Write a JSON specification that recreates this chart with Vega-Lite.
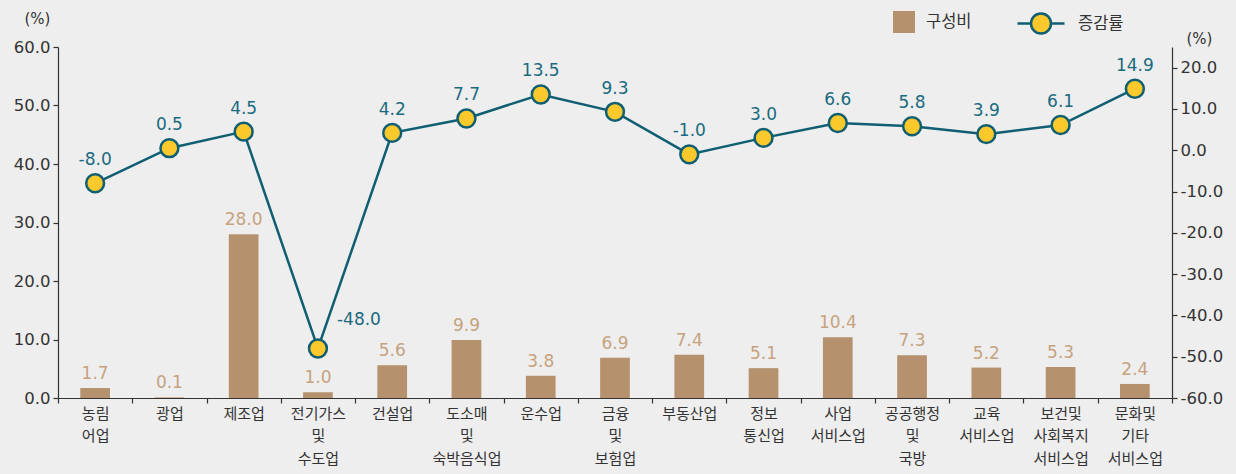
{
  "$schema": "https://vega.github.io/schema/vega-lite/v6.json",
  "width": 1114,
  "height": 351,
  "autosize": {"type": "none"},
  "padding": {"left": 58, "top": 47, "right": 64, "bottom": 76},
  "background": "#eeeeee",
  "config": {
    "locale": {"number": {"decimal": ".", "thousands": ",", "grouping": [3], "currency": ["", ""], "minus": "-"}},
    "view": {"stroke": null},
    "axis": {"grid": false, "domainColor": "#333333", "tickColor": "#333333", "labelColor": "#333333", "titleColor": "#333333", "domainWidth": 1.2, "tickWidth": 1.2}
  },
  "data": {
    "values": [
      {"cat": "농림\n어업", "share": 1.7, "growth": -8.0},
      {"cat": "광업", "share": 0.1, "growth": 0.5},
      {"cat": "제조업", "share": 28.0, "growth": 4.5},
      {"cat": "전기가스\n및\n수도업", "share": 1.0, "growth": -48.0},
      {"cat": "건설업", "share": 5.6, "growth": 4.2},
      {"cat": "도소매\n및\n숙박음식업", "share": 9.9, "growth": 7.7},
      {"cat": "운수업", "share": 3.8, "growth": 13.5},
      {"cat": "금융\n및\n보험업", "share": 6.9, "growth": 9.3},
      {"cat": "부동산업", "share": 7.4, "growth": -1.0},
      {"cat": "정보\n통신업", "share": 5.1, "growth": 3.0},
      {"cat": "사업\n서비스업", "share": 10.4, "growth": 6.6},
      {"cat": "공공행정\n및\n국방", "share": 7.3, "growth": 5.8},
      {"cat": "교육\n서비스업", "share": 5.2, "growth": 3.9},
      {"cat": "보건및\n사회복지\n서비스업", "share": 5.3, "growth": 6.1},
      {"cat": "문화및\n기타\n서비스업", "share": 2.4, "growth": 14.9}
    ]
  },
  "encoding": {
    "x": {
      "field": "cat", "type": "nominal", "sort": null,
      "scale": {"paddingInner": 0, "paddingOuter": 0},
      "axis": {
        "title": null, "labelAngle": 0, "tickBand": "extent", "tickSize": 5,
        "labelExpr": "split(datum.label, '\\n')",
        "labelFont": "Noto Sans CJK KR", "labelFontSize": 15, "labelLineHeight": 22.5,
        "labelBaseline": "top", "labelPadding": 3
      }
    }
  },
  "layer": [
    {
      "encoding": {
        "y": {
          "type": "quantitative",
          "scale": {"domain": [0, 60], "nice": false},
          "axis": {
            "orient": "left", "values": [0, 10, 20, 30, 40, 50, 60], "format": ".1f",
            "labelFont": "DejaVu Sans", "labelFontSize": 16.5, "tickSize": 5, "labelPadding": 3,
            "title": "(%)", "titleAngle": 0, "titleX": -21, "titleY": -29, "titleAlign": "center", "titleBaseline": "middle",
            "titleFont": "DejaVu Sans", "titleFontSize": 15, "titleFontWeight": "normal"
          }
        }
      },
      "layer": [
        {
          "mark": {"type": "bar", "width": {"band": 0.4}},
          "encoding": {
            "y": {"field": "share", "type": "quantitative"},
            "color": {
              "datum": "구성비",
              "scale": {"domain": ["구성비"], "range": ["#b5916d"]},
              "legend": {
                "title": null, "orient": "none", "legendX": 835, "legendY": -36, "padding": 0,
                "symbolType": "square", "symbolSize": 484, "symbolStrokeWidth": 0,
                "labelFont": "Noto Sans CJK KR", "labelFontSize": 16.5, "labelColor": "#333333", "labelOffset": 11
              }
            }
          }
        },
        {
          "mark": {"type": "text", "baseline": "bottom", "dy": -5, "font": "DejaVu Sans", "fontSize": 17, "color": "#c6a27f"},
          "encoding": {
            "y": {"field": "share", "type": "quantitative"},
            "text": {"field": "share", "type": "quantitative", "format": ".1f"}
          }
        }
      ]
    },
    {
      "encoding": {
        "y": {
          "type": "quantitative",
          "scale": {"domain": [-60, 25], "nice": false},
          "axis": {
            "orient": "right", "values": [-60, -50, -40, -30, -20, -10, 0, 10, 20], "format": ".1f",
            "labelFont": "DejaVu Sans", "labelFontSize": 16.5, "tickSize": 5, "labelPadding": 3,
            "title": "(%)", "titleAngle": 0, "titleX": 27, "titleY": -9, "titleAlign": "center", "titleBaseline": "middle",
            "titleFont": "DejaVu Sans", "titleFontSize": 15, "titleFontWeight": "normal"
          }
        }
      },
      "layer": [
        {
          "mark": {"type": "line", "strokeWidth": 2.5},
          "encoding": {
            "y": {"field": "growth", "type": "quantitative"},
            "color": {
              "datum": "증감률",
              "scale": {"domain": ["증감률"], "range": ["#0f5e72"]},
              "legend": {
                "title": null, "orient": "none", "legendX": 958, "legendY": -48.5, "padding": 0,
                "symbolType": "M-1,0L-0.425,0M0.425,0L1,0M-0.425,0A0.425,0.425,0,1,1,0.425,0A0.425,0.425,0,1,1,-0.425,0Z",
                "symbolSize": 2209,
                "labelFont": "Noto Sans CJK KR", "labelFontSize": 16.5, "labelColor": "#333333", "labelOffset": 12,
                "encode": {"symbols": {"update": {"fill": {"value": "#fcc92c"}, "stroke": {"value": "#0f5e72"}, "strokeWidth": {"value": 2.5}, "opacity": {"value": 1}, "fillOpacity": {"value": 1}}}}
              }
            }
          }
        },
        {
          "mark": {"type": "point", "filled": true, "fill": "#fcc92c", "stroke": "#0f5e72", "strokeWidth": 2.5, "size": 320, "opacity": 1, "fillOpacity": 1},
          "encoding": {"y": {"field": "growth", "type": "quantitative"}}
        },
        {
          "transform": [{"filter": "datum.growth > -40"}],
          "mark": {"type": "text", "baseline": "bottom", "dy": -14, "font": "DejaVu Sans", "fontSize": 17, "color": "#1a6a7f"},
          "encoding": {
            "y": {"field": "growth", "type": "quantitative"},
            "text": {"field": "growth", "type": "quantitative", "format": ".1f"}
          }
        },
        {
          "transform": [{"filter": "datum.growth <= -40"}],
          "mark": {"type": "text", "align": "left", "baseline": "middle", "dx": 19, "dy": -28, "font": "DejaVu Sans", "fontSize": 17, "color": "#1a6a7f"},
          "encoding": {
            "y": {"field": "growth", "type": "quantitative"},
            "text": {"field": "growth", "type": "quantitative", "format": ".1f"}
          }
        }
      ]
    }
  ],
  "resolve": {"scale": {"y": "independent", "color": "independent"}}
}
